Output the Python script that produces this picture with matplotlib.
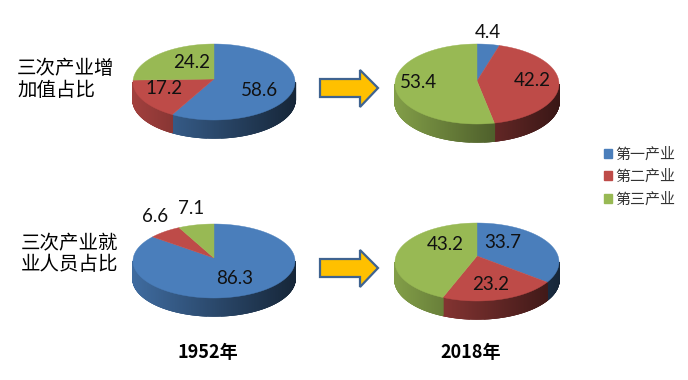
#-*- coding: utf-8 -*-
import numpy as np
import matplotlib
matplotlib.use('Agg')
from matplotlib import pyplot as plt
from matplotlib.patches import Polygon, Patch
from matplotlib.colors import to_rgb

plt.rcParams['font.family'] = ['Noto Sans CJK SC', 'DejaVu Sans']

# 三次产业占比
sectors = ['第一产业', '第二产业', '第三产业']
colors = ['#4a7ebb', '#be4b48', '#98b954']
added_1952 = [58.6, 17.2, 24.2]
added_2018 = [4.4, 42.2, 53.4]
staff_1952 = [86.3, 6.6, 7.1]
staff_2018 = [33.7, 23.2, 43.2]


def shade(color, k):
    return tuple(min(1, c * k) for c in to_rgb(color))


def pie3d(ax, values, cx, cy, rx=81, ry=38, depth=18, dy_apex=-3):
    # 从12点钟方向顺时针画，先画侧面再画顶面
    total = float(sum(values))
    edges = np.cumsum([0] + list(values)) / total * 2 * np.pi
    for i, v in enumerate(values):
        t = np.linspace(edges[i], edges[i + 1], max(int(v * 12), 4))
        # 侧面：从左到右渐暗
        for a, b in zip(t[:-1], t[1:]):
            if np.cos((a + b) / 2) > 0:
                continue
            xa, xb = cx + rx * np.sin(a), cx + rx * np.sin(b)
            ya, yb = cy - ry * np.cos(a), cy - ry * np.cos(b)
            pos = ((xa + xb) / 2 - (cx - rx)) / (2 * rx)
            c = shade(colors[i], 0.85 - 0.55 * pos)
            ax.add_patch(Polygon([[xa, ya], [xb, yb], [xb, yb + depth], [xa, ya + depth]],
                                 closed=True, fc=c, ec=c, lw=1.0, zorder=2))
    for i, v in enumerate(values):
        t = np.linspace(edges[i], edges[i + 1], max(int(v * 4), 4))
        pts = [[cx, cy + dy_apex]] + [[cx + rx * np.sin(a), cy - ry * np.cos(a)] for a in t]
        ax.add_patch(Polygon(pts, closed=True, fc=colors[i], ec=colors[i], lw=0.3, zorder=3))


def label(ax, values, positions):
    for v, (x, y) in zip(values, positions):
        ax.text(x, y, str(v), fontsize=13.5, ha='center', va='center', color='#111111',
                family=['Lato', 'DejaVu Sans'], zorder=5)


def arrow(ax, y):
    pts = [[320, y - 9], [360, y - 9], [360, y - 18], [378, y], [360, y + 19], [360, y + 9], [320, y + 9]]
    ax.add_patch(Polygon(pts, closed=True, fc='#ffc000', ec='#3f6390', lw=1.6, zorder=3))


fig = plt.figure(figsize=(6.88, 3.80), dpi=100)
ax = fig.add_axes([0, 0, 1, 1])
ax.set_xlim(0, 688)
ax.set_ylim(380, 0)
ax.axis('off')

pie3d(ax, added_1952, 214, 82)
pie3d(ax, added_2018, 477, 84, rx=82, ry=40)
pie3d(ax, staff_1952, 214, 261, ry=37)
pie3d(ax, staff_2018, 477, 262, rx=82, ry=39, dy_apex=-6)

label(ax, added_1952, [(259, 91), (164, 89), (192, 63)])
label(ax, added_2018, [(488, 33), (532, 81), (418, 83)])
label(ax, staff_1952, [(235, 279), (155, 216), (191, 209)])
label(ax, staff_2018, [(503, 243), (491, 285), (445, 244)])

arrow(ax, 88)
arrow(ax, 268)

ax.text(17, 69, '三次产业增', fontsize=14, ha='left', va='center', color='black')
ax.text(17, 90, '加值占比', fontsize=14, ha='left', va='center', color='black')
ax.text(21, 244, '三次产业就', fontsize=14, ha='left', va='center', color='black')
ax.text(21, 265, '业人员占比', fontsize=14, ha='left', va='center', color='black')
ax.text(208, 352, '1952年', fontsize=13, fontweight='bold', ha='center', va='center')
ax.text(471, 352, '2018年', fontsize=13, fontweight='bold', ha='center', va='center')

handles = [Patch(fc=c, ec=c) for c in colors]
leg = ax.legend(handles, sectors, loc='center left', bbox_to_anchor=(604 / 688, 1 - 177 / 380),
                frameon=False, fontsize=10.8, handlelength=0.55, handleheight=0.55,
                handletextpad=0.2, labelspacing=0.55, borderpad=0, borderaxespad=0)
for t in leg.get_texts():
    t.set_color('#333333')

fig.savefig('out.png', dpi=100)
